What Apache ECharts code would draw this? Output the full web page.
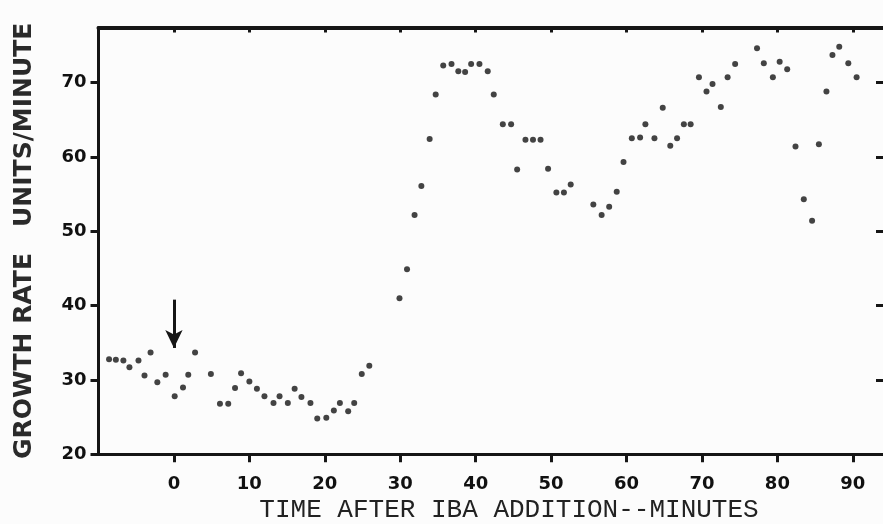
<!DOCTYPE html>
<html>
<head>
<meta charset="utf-8">
<script src="https://cdn.jsdelivr.net/npm/echarts@6/dist/echarts.min.js"></script>
<style>
html,body{margin:0;padding:0;background:#fcfcfc;}
#chart{width:883px;height:524px;}
</style>
</head>
<body>
<div id="chart"></div>
<script>
// Time after IBA addition (minutes)
var timeMin = [
  -8.6, -7.7, -6.7, -5.9, -4.7, -3.9, -3.1, -2.2, -1.1, 0.1,
  1.2, 1.9, 2.8, 4.9, 6.1, 7.2, 8.1, 8.9, 10.0, 11.0,
  12.0, 13.2, 14.0, 15.1, 16.0, 16.9, 18.1, 19.0, 20.2, 21.2,
  22.0, 23.1, 23.9, 24.9, 25.9,
  29.9, 30.9, 31.9, 32.8, 33.9, 34.7, 35.7, 36.8, 37.7, 38.6,
  39.4, 40.5, 41.6, 42.4, 43.6, 44.7, 45.5, 46.6, 47.6, 48.6,
  49.6, 50.7, 51.7, 52.6, 55.6, 56.7, 57.7, 58.7, 59.6, 60.7,
  61.8, 62.5, 63.7, 64.8, 65.8, 66.7, 67.6, 68.5, 69.6, 70.6,
  71.4, 72.5, 73.4, 74.4, 77.3, 78.2, 79.4, 80.3, 81.3, 82.4,
  83.5, 84.6, 85.5, 86.5, 87.3, 88.2, 89.4, 90.5
];
// Growth rate (units/minute)
var growthRate = [
  32.8, 32.7, 32.6, 31.7, 32.6, 30.6, 33.7, 29.7, 30.7, 27.8,
  29.0, 30.7, 33.7, 30.8, 26.8, 26.8, 28.9, 30.9, 29.8, 28.8,
  27.8, 26.9, 27.8, 26.9, 28.8, 27.7, 26.9, 24.8, 24.9, 25.9,
  26.9, 25.8, 26.9, 30.8, 31.9,
  41.0, 44.9, 52.2, 56.1, 62.4, 68.4, 72.3, 72.5, 71.5, 71.4,
  72.5, 72.5, 71.5, 68.4, 64.4, 64.4, 58.3, 62.3, 62.3, 62.3,
  58.4, 55.2, 55.2, 56.3, 53.6, 52.2, 53.3, 55.3, 59.3, 62.5,
  62.6, 64.4, 62.5, 66.6, 61.5, 62.5, 64.4, 64.4, 70.7, 68.8,
  69.8, 66.7, 70.7, 72.5, 74.6, 72.6, 70.7, 72.8, 71.8, 61.4,
  54.3, 51.4, 61.7, 68.8, 73.7, 74.8, 72.6, 70.7
];
var xTicks = [0, 10, 20, 30, 40, 50, 60, 70, 80, 90];
var yTicks = [20, 30, 40, 50, 60, 70];
var xTitle = 'TIME AFTER IBA ADDITION--MINUTES';
var yTitle = 'GROWTH RATE   UNITS/MINUTE';
var arrowFrom = [0, 40.8];
var arrowTo = [0, 34.3];

var points = timeMin.map(function (t, i) { return [t, growthRate[i]]; });
var ink = '#161616';

var chart = echarts.init(document.getElementById('chart'), null, {renderer: 'canvas'});
chart.setOption({
  backgroundColor: '#fcfcfc',
  animation: false,
  grid: {left: 98.5, top: 27.5, width: 788, height: 426.8},
  xAxis: [{
    type: 'value', min: -10, max: 94, position: 'bottom',
    axisLine: {show: true, onZero: false, lineStyle: {color: ink, width: 3}},
    axisTick: {show: true, customValues: xTicks, length: 8, lineStyle: {color: ink, width: 3}},
    axisLabel: {customValues: xTicks, margin: 21, color: '#111',
      fontFamily: 'DejaVu Sans', fontWeight: 'bold', fontSize: 18},
    splitLine: {show: false}
  }, {
    type: 'value', min: -10, max: 94, position: 'top',
    axisLine: {show: true, onZero: false, lineStyle: {color: ink, width: 4}},
    axisTick: {show: true, inside: true, customValues: xTicks, length: 5, lineStyle: {color: ink, width: 3}},
    axisLabel: {show: false},
    splitLine: {show: false}
  }],
  yAxis: [{
    type: 'value', min: 20, max: 77.4, position: 'left',
    name: yTitle, nameLocation: 'middle', nameGap: 62,
    nameTextStyle: {fontFamily: 'DejaVu Sans', fontWeight: 'bold', fontSize: 25, color: '#2a2a2a'},
    axisLine: {show: true, onZero: false, lineStyle: {color: ink, width: 3}},
    axisTick: {show: true, customValues: yTicks, length: 8, lineStyle: {color: ink, width: 3}},
    axisLabel: {customValues: yTicks, margin: 12, color: '#111',
      fontFamily: 'DejaVu Sans', fontWeight: 'bold', fontSize: 18},
    splitLine: {show: false}
  }, {
    type: 'value', min: 20, max: 77.4, position: 'right',
    axisLine: {show: false, onZero: false},
    axisTick: {show: true, inside: true, customValues: yTicks, length: 7, lineStyle: {color: ink, width: 3}},
    axisLabel: {show: false},
    splitLine: {show: false}
  }],
  series: [{
    type: 'scatter',
    xAxisIndex: 0, yAxisIndex: 0,
    data: points,
    symbol: 'circle',
    symbolSize: 6,
    itemStyle: {color: '#141414'},
    markLine: {
      silent: true,
      animation: false,
      label: {show: false},
      lineStyle: {color: ink, width: 3, type: 'solid'},
      data: [
        [{coord: arrowFrom, symbol: 'none'}, {coord: arrowTo, symbol: 'arrow', symbolSize: [13, 18]}]
      ]
    }
  }],
  graphic: [{
    type: 'text', x: 509, y: 497,
    style: {text: xTitle, align: 'center', verticalAlign: 'top',
      font: '26px "Liberation Mono", monospace', fill: '#222'}
  }]
});
</script>
</body>
</html>
